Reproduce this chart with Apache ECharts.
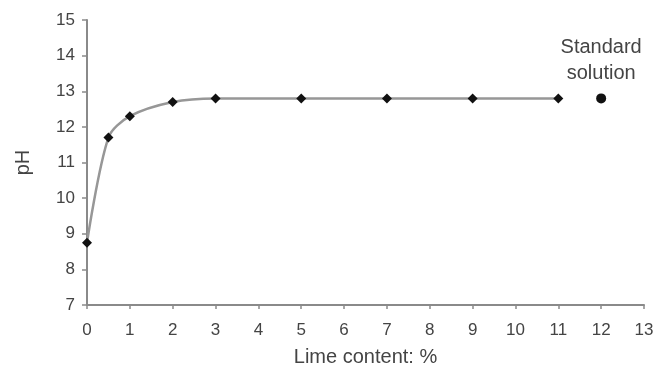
<!DOCTYPE html>
<html>
<head>
<meta charset="utf-8">
<script src="https://cdn.jsdelivr.net/npm/echarts@6/dist/echarts.min.js"></script>
<style>
  html, body { margin: 0; padding: 0; background: #fff; }
  #chart { width: 655px; height: 368px; }
</style>
</head>
<body>
<div id="chart"></div>
<script>
// Lime content (%) against measured pH
const limeContent = [0, 0.5, 1, 2, 3, 5, 7, 9, 11];
const phValues = [8.75, 11.7, 12.3, 12.7, 12.8, 12.8, 12.8, 12.8, 12.8];

// Reference standard solution
const standardX = [12];
const standardPh = [12.8];
const standardLabel = 'Standard\nsolution';

const xTitle = 'Lime content: %';
const yTitle = 'pH';

const font = '"Liberation Sans", Arial, sans-serif';
const axisColor = '#8a8a8a';
const textColor = '#444';

const chart = echarts.init(document.getElementById('chart'));
chart.setOption({
  animation: false,
  backgroundColor: '#fff',
  grid: { left: 87, right: 11, top: 20, bottom: 63, outerBoundsMode: 'none' },
  xAxis: {
    type: 'value', min: 0, max: 13, interval: 1,
    name: xTitle, nameLocation: 'middle', nameGap: 42,
    nameTextStyle: { color: textColor, fontSize: 20, fontFamily: font },
    axisLine: { lineStyle: { color: axisColor, width: 2 } },
    axisTick: { show: true, length: 4, lineStyle: { color: axisColor, width: 1.5 } },
    axisLabel: { color: textColor, fontSize: 17, fontFamily: font, margin: 17 },
    splitLine: { show: false }
  },
  yAxis: {
    type: 'value', min: 7, max: 15, interval: 1,
    name: yTitle, nameLocation: 'middle', nameGap: 54, nameRotate: 90,
    nameTextStyle: { color: textColor, fontSize: 20, fontFamily: font },
    axisLine: { show: true, lineStyle: { color: axisColor, width: 2 } },
    axisTick: { show: true, length: 5, lineStyle: { color: axisColor, width: 1.5 } },
    axisLabel: { color: textColor, fontSize: 17, fontFamily: font, margin: 12 },
    splitLine: { show: false }
  },
  series: [
    {
      type: 'line',
      data: limeContent.map((x, i) => [x, phValues[i]]),
      smooth: 0.3,
      lineStyle: { color: '#979797', width: 2.5 },
      symbol: 'diamond',
      symbolSize: 10,
      itemStyle: { color: '#111' },
      z: 3
    },
    {
      type: 'scatter',
      data: standardX.map((x, i) => [x, standardPh[i]]),
      symbol: 'circle',
      symbolSize: 10,
      itemStyle: { color: '#111', opacity: 1 },
      label: {
        show: true, position: 'top', distance: 7,
        formatter: standardLabel,
        color: textColor, fontSize: 20, fontFamily: font, lineHeight: 26, align: 'center'
      }
    }
  ]
});
</script>
</body>
</html>
